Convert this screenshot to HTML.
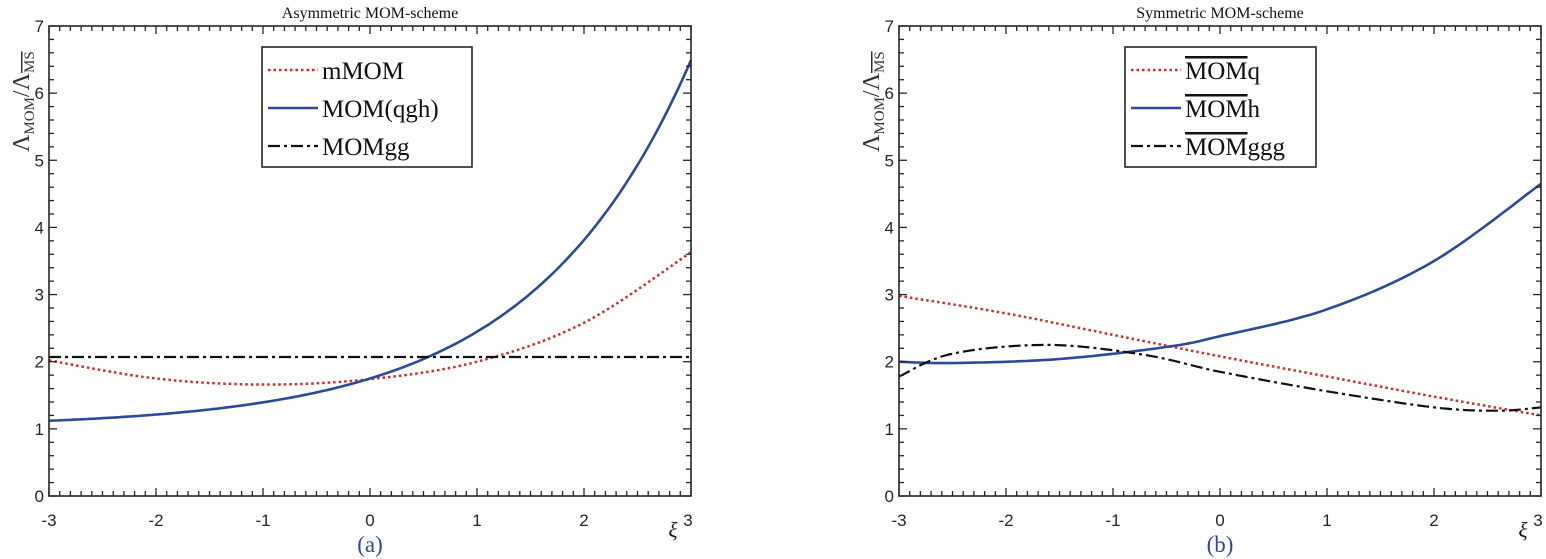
<!DOCTYPE html>
<html><head><meta charset="utf-8"><style>
html,body{margin:0;padding:0;background:#fff;}
svg{display:block;}
.tk{font-family:"Liberation Sans",sans-serif;font-size:17px;fill:#262626;}
.sf{font-family:"Liberation Serif",serif;fill:#111;}
</style></head><body>
<svg id="s" width="1546" height="559" xmlns="http://www.w3.org/2000/svg"></svg>
<script>
const S=document.getElementById('s');
let h='';
const SF='font-family="Liberation Serif, serif"';
function cr(pts,X,Y){
  let d='';const P=pts;
  function seg(i,t){const p0=P[Math.max(i-1,0)],p1=P[i],p2=P[i+1],p3=P[Math.min(i+2,P.length-1)];
    const t2=t*t,t3=t2*t;
    const f=(a,b,c,e)=>0.5*((2*b)+(-a+c)*t+(2*a-5*b+4*c-e)*t2+(-a+3*b-3*c+e)*t3);
    return [f(p0[0],p1[0],p2[0],p3[0]),f(p0[1],p1[1],p2[1],p3[1])];}
  for(let i=0;i<P.length-1;i++)for(let k=0;k<=20;k++){const q=seg(i,k/20);d+=(d?'L':'M')+X(q[0]).toFixed(1)+','+Y(q[1]).toFixed(1);}
  return d;
}
function fn(f,X,Y){let d='';for(let i=0;i<=200;i++){const x=-3+6*i/200;d+=(d?'L':'M')+X(x).toFixed(1)+','+Y(f(x)).toFixed(1);}return d;}
function axes(x0,title,lab,leg,series,legx){
  const x1=x0+642,y0=496,y1=26;
  const X=v=>x0+(v+3)*107,Y=v=>y0-v*(470/7);
  series.forEach(s=>{h+=`<path d="${s.d(X,Y)}" fill="none" stroke="${s.c}" stroke-width="${s.w}" ${s.da?`stroke-dasharray="${s.da}"`:''}/>`;});
  h+=`<rect x="${x0}" y="${y1}" width="642" height="470" fill="none" stroke="#262626" stroke-width="1.6"/>`;
  for(let i=0;i<=60;i++){const v=-3+i*0.1,x=X(v);const L=(i%10==0)?8:5;
    h+=`<line x1="${x}" y1="${y0}" x2="${x}" y2="${y0-L}" stroke="#262626" stroke-width="1.3"/><line x1="${x}" y1="${y1}" x2="${x}" y2="${y1+L}" stroke="#262626" stroke-width="1.3"/>`;}
  for(let i=0;i<=35;i++){const v=i*0.2,y=Y(v);const L=(i%5==0)?8:5;
    h+=`<line x1="${x0}" y1="${y}" x2="${x0+L}" y2="${y}" stroke="#262626" stroke-width="1.3"/><line x1="${x1}" y1="${y}" x2="${x1-L}" y2="${y}" stroke="#262626" stroke-width="1.3"/>`;}
  for(let v=-3;v<=3;v++)h+=`<text class="tk" x="${X(v)+(v==3?-3:0)}" y="526" text-anchor="middle">${v}</text>`;
  for(let v=0;v<=7;v++)h+=`<text class="tk" x="${x0-5}" y="${Y(v)+6}" text-anchor="end">${v}</text>`;
  h+=`<text class="sf" ${SF} x="${X(0)}" y="18" font-size="16" text-anchor="middle">${title}</text>`;
  h+=`<text class="sf" ${SF} x="${X(0)}" y="552" font-size="23" text-anchor="middle" style="fill:#2c4a9a">${lab}</text>`;
  h+=`<text class="sf" ${SF} x="${x1-18}" y="537" font-size="21" font-style="italic" text-anchor="middle">ξ</text>`;
  h+=`<g transform="translate(${x0-20},152) rotate(-90)"><text class="sf" ${SF} x="0" y="0" font-size="24" style="fill:#333">Λ<tspan font-size="15" dy="5">MOM</tspan><tspan dy="-5">/Λ</tspan><tspan font-size="15" dy="5" style="text-decoration:overline">MS</tspan></text></g>`;
  const lw=leg.w,lx=legx;
  h+=`<rect x="${lx}" y="47" width="${lw}" height="120" fill="#fff" stroke="#262626" stroke-width="1.6"/>`;
  leg.items.forEach((it,i)=>{const y=70+i*38;const s=series[i];
    h+=`<line x1="${lx+6}" y1="${y}" x2="${lx+56}" y2="${y}" stroke="${s.c}" stroke-width="${s.w}" ${s.da?`stroke-dasharray="${s.da}"`:''}/>`;
    if(leg.bar)h+=`<text class="sf" ${SF} x="${lx+60}" y="${y+9}" font-size="25"><tspan style="text-decoration:overline">MOM</tspan>${it.slice(3)}</text>`;
    else h+=`<text class="sf" ${SF} x="${lx+60}" y="${y+9}" font-size="25">${it}</text>`;
  });
}
const red='#d42a2a',blue='#2b4a9b';
axes(49,'Asymmetric MOM-scheme','(a)',{w:210,items:['mMOM','MOM(qgh)','MOMgg']},[
 {c:red,w:2.5,da:'2.5,3',d:(X,Y)=>cr([[-3,2.02],[-2,1.75],[-1,1.66],[0,1.74],[1,2.0],[2,2.58],[3,3.63]],X,Y)},
 {c:blue,w:2.6,d:(X,Y)=>fn(x=>1.024+0.726*Math.exp(0.673*x),X,Y)},
 {c:'#111',w:2.2,da:'12,4,3,4',d:(X,Y)=>fn(x=>2.07,X,Y)}
],262);
axes(899,'Symmetric MOM-scheme','(b)',{w:191,bar:true,items:['MOMq','MOMh','MOMggg']},[
 {c:red,w:2.5,da:'2.5,3',d:(X,Y)=>cr([[-3,2.98],[-2,2.72],[-1,2.4],[0,2.08],[1,1.78],[2,1.48],[3,1.2]],X,Y)},
 {c:blue,w:2.6,d:(X,Y)=>cr([[-3,2.0],[-2.5,1.98],[-1.5,2.04],[-0.5,2.22],[0,2.38],[1,2.78],[2,3.5],[3,4.65]],X,Y)},
 {c:'#111',w:2.2,da:'12,4,3,4',d:(X,Y)=>cr([[-3,1.78],[-2.5,2.12],[-1.6,2.25],[-0.7,2.1],[0,1.85],[1,1.56],[2,1.32],[2.6,1.27],[3,1.32]],X,Y)}
],1125);
S.innerHTML=h;
</script>
</body></html>
